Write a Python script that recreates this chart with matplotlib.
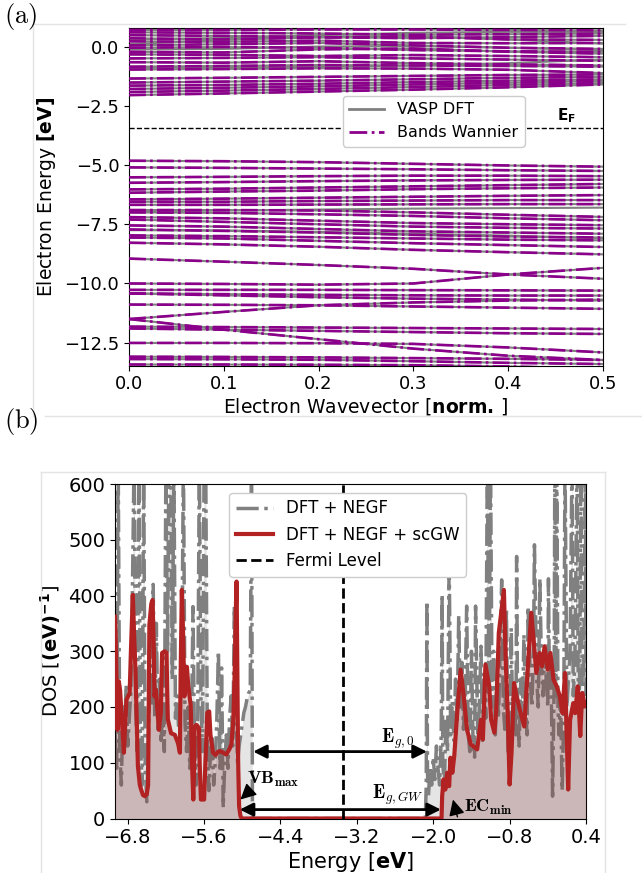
import matplotlib
matplotlib.use('Agg')
import matplotlib.pyplot as plt
from matplotlib.lines import Line2D
import numpy as np

# ---------------- data: band structure (panel a) ----------------
kpts = [0.0, 0.1, 0.2, 0.3, 0.4, 0.5]

wannier_upper = [
    [0.70, 0.70, 0.72, 0.72, 0.70, 0.68],
    [0.60, 0.58, 0.55, 0.50, 0.52, 0.55],
    [0.48, 0.45, 0.40, 0.35, 0.40, 0.45],
    [0.35, 0.30, 0.38, 0.42, 0.30, 0.28],
    [0.22, 0.20, 0.25, 0.15, 0.14, 0.15],
    [0.05, 0.10, 0.15, 0.05, -0.05, -0.10],
    [-0.05, -0.02, -0.05, -0.15, -0.20, -0.22],
    [-0.22, -0.25, -0.12, -0.08, -0.22, -0.30],
    [-0.33, -0.35, -0.40, -0.36, -0.40, -0.45],
    [-0.50, -0.48, -0.45, -0.50, -0.55, -0.60],
    [-0.66, -0.68, -0.62, -0.70, -0.75, -0.80],
    [-0.85, -0.82, -0.78, -0.80, -0.82, -0.85],
    [-0.97, -0.95, -0.92, -0.93, -0.98, -1.12],
    [-1.35, -1.32, -1.28, -1.24, -1.20, -1.18],
    [-1.52, -1.48, -1.44, -1.38, -1.32, -1.28],
    [-1.65, -1.62, -1.57, -1.50, -1.44, -1.38],
    [-1.79, -1.74, -1.68, -1.60, -1.53, -1.45],
    [-1.92, -1.86, -1.79, -1.71, -1.62, -1.54],
    [-2.05, -1.98, -1.90, -1.82, -1.72, -1.60],
]
wannier_lower = [
    [-4.82, -4.84, -4.88, -4.95, -5.02, -5.07],
    [-5.10, -5.12, -5.15, -5.18, -5.22, -5.25],
    [-5.52, -5.50, -5.47, -5.45, -5.45, -5.47],
    [-5.75, -5.72, -5.68, -5.65, -5.63, -5.62],
    [-6.03, -6.00, -5.95, -5.90, -5.85, -5.80],
    [-6.17, -6.12, -6.08, -6.02, -5.98, -5.95],
    [-6.45, -6.42, -6.38, -6.34, -6.30, -6.27],
    [-6.55, -6.55, -6.52, -6.50, -6.48, -6.48],
    [-6.68, -6.68, -6.67, -6.66, -6.65, -6.65],
    [-6.90, -6.90, -6.92, -7.00, -7.10, -7.19],
    [-7.00, -7.02, -7.08, -7.15, -7.25, -7.33],
    [-7.20, -7.25, -7.35, -7.45, -7.50, -7.54],
    [-7.30, -7.40, -7.50, -7.60, -7.65, -7.68],
    [-7.55, -7.60, -7.70, -7.80, -7.85, -7.90],
    [-7.72, -7.78, -7.85, -7.95, -8.02, -8.06],
    [-7.97, -8.00, -8.05, -8.10, -8.15, -8.18],
    [-8.06, -8.10, -8.20, -8.30, -8.38, -8.46],
    [-8.28, -8.35, -8.45, -8.58, -8.68, -8.77],
]
wannier_deep = [
    [-8.95, -9.08, -9.22, -9.38, -9.62, -9.80],
    [-10.00, -10.02, -10.05, -10.00, -9.62, -9.34],
    [-10.27, -10.27, -10.27, -10.28, -10.29, -10.30],
    [-10.42, -10.45, -10.48, -10.50, -10.51, -10.51],
    [-10.42, -10.50, -10.58, -10.64, -10.68, -10.72],
    [-10.89, -10.90, -10.92, -10.97, -11.02, -11.07],
    [-11.50, -11.20, -10.92, -10.80, -10.72, -10.68],
    [-11.50, -11.95, -12.35, -12.75, -13.05, -13.23],
    [-11.82, -11.84, -11.86, -11.88, -11.90, -11.92],
    [-11.90, -11.95, -12.00, -12.05, -12.10, -12.13],
    [-12.51, -12.51, -12.52, -12.55, -12.70, -12.91],
    [-13.09, -13.10, -13.12, -13.15, -13.18, -13.23],
    [-13.19, -13.20, -13.22, -13.28, -13.35, -13.40],
    [-13.42, -13.42, -13.43, -13.45, -13.50, -13.60],
]
dft_only_bands = [
    [0.10, 0.28, 0.42, 0.45, 0.30, 0.12],
    [0.30, 0.36, 0.48, 0.58, 0.62, 0.62],
    [-0.12, -0.10, 0.00, 0.02, -0.05, -0.15],
    [-0.90, -0.88, -0.86, -0.80, -0.70, -0.55],
    [-6.95, -6.92, -6.88, -6.84, -6.82, -6.80],
    [-7.75, -7.76, -7.82, -7.90, -7.98, -8.10],
]
fermi_bands = -3.43

# ---------------- data: DOS (panel b) ----------------
dft_valence = [
    (-7.000, 160), (-6.975, 90), (-6.950, 650), (-6.925, 120), (-6.900, 60),
    (-6.875, 200), (-6.850, 150), (-6.825, 240), (-6.800, 130), (-6.775, 180),
    (-6.750, 230), (-6.725, 420), (-6.700, 650), (-6.675, 200), (-6.650, 120),
    (-6.625, 650), (-6.600, 140), (-6.575, 60), (-6.550, 650), (-6.525, 90),
    (-6.500, 30), (-6.475, 150), (-6.450, 250), (-6.425, 200), (-6.400, 420),
    (-6.375, 180), (-6.350, 350), (-6.325, 160), (-6.300, 250), (-6.275, 140),
    (-6.250, 200), (-6.225, 120), (-6.200, 650), (-6.175, 300), (-6.150, 650),
    (-6.125, 650), (-6.100, 250), (-6.075, 650), (-6.050, 180), (-6.025, 220),
    (-6.000, 160), (-5.975, 200), (-5.950, 280), (-5.925, 650), (-5.900, 170),
    (-5.875, 120), (-5.850, 200), (-5.825, 90), (-5.800, 150), (-5.775, 380),
    (-5.750, 120), (-5.725, 60), (-5.700, 180), (-5.675, 650), (-5.650, 220),
    (-5.625, 120), (-5.600, 650), (-5.575, 650), (-5.550, 150), (-5.525, 50),
    (-5.500, 120), (-5.475, 150), (-5.450, 60), (-5.425, 100), (-5.400, 180),
    (-5.375, 300), (-5.350, 90), (-5.325, 270), (-5.300, 20), (-5.275, 100),
    (-5.250, 150), (-5.225, 90), (-5.200, 180), (-5.175, 220), (-5.150, 130),
    (-5.125, 380), (-5.100, 200), (-5.075, 100), (-5.050, 130), (-5.025, 150),
    (-5.000, 170), (-4.975, 190), (-4.950, 200), (-4.925, 215), (-4.900, 225),
    (-4.875, 230), (-4.855, 650), (-4.840, 0),
]
dft_conduction = [
    (-2.125, 0), (-2.110, 60), (-2.100, 390), (-2.090, 80), (-2.075, 40),
    (-2.050, 90), (-2.025, 60), (-2.000, 110), (-1.975, 70), (-1.950, 130),
    (-1.925, 90), (-1.900, 60), (-1.875, 150), (-1.860, 402), (-1.850, 100),
    (-1.825, 60), (-1.800, 180), (-1.775, 120), (-1.750, 472), (-1.725, 150),
    (-1.700, 210), (-1.675, 140), (-1.650, 250), (-1.625, 170), (-1.600, 363),
    (-1.575, 200), (-1.550, 280), (-1.525, 160), (-1.500, 220), (-1.475, 381),
    (-1.450, 150), (-1.425, 120), (-1.400, 300), (-1.375, 140), (-1.350, 110),
    (-1.335, 381), (-1.300, 150), (-1.275, 200), (-1.250, 309), (-1.225, 140),
    (-1.200, 250), (-1.175, 180), (-1.150, 650), (-1.125, 220), (-1.100, 650),
    (-1.075, 200), (-1.050, 300), (-1.025, 150), (-1.000, 250), (-0.975, 180),
    (-0.950, 300), (-0.925, 428), (-0.900, 200), (-0.875, 160), (-0.850, 375),
    (-0.825, 120), (-0.800, 90), (-0.775, 342), (-0.750, 160), (-0.725, 220),
    (-0.700, 150), (-0.690, 470), (-0.675, 200), (-0.650, 130), (-0.625, 250),
    (-0.600, 180), (-0.575, 330), (-0.550, 200), (-0.525, 150), (-0.510, 380),
    (-0.475, 250), (-0.450, 200), (-0.425, 300), (-0.410, 491), (-0.375, 250),
    (-0.350, 200), (-0.325, 430), (-0.300, 280), (-0.275, 220), (-0.250, 300),
    (-0.225, 250), (-0.200, 200), (-0.190, 430), (-0.175, 240), (-0.150, 280),
    (-0.125, 40), (-0.100, 250), (-0.090, 650), (-0.075, 220), (-0.060, 650),
    (-0.040, 200), (-0.025, 150), (0.000, 220), (0.025, 50), (0.050, 180),
    (0.070, 650), (0.100, 200), (0.125, 250), (0.150, 300), (0.180, 650),
    (0.200, 220), (0.225, 280), (0.260, 650), (0.280, 200), (0.300, 250),
    (0.320, 650), (0.340, 230), (0.360, 200), (0.390, 650), (0.400, 220),
]
gw_valence = [
    (-7.00, 362), (-6.99, 330), (-6.96, 159), (-6.94, 246), (-6.92, 230),
    (-6.90, 190), (-6.89, 172), (-6.86, 118), (-6.84, 170), (-6.82, 213),
    (-6.77, 225), (-6.75, 300), (-6.72, 401), (-6.70, 330), (-6.68, 272),
    (-6.66, 180), (-6.64, 94), (-6.61, 60), (-6.59, 52), (-6.56, 42),
    (-6.53, 40), (-6.50, 44), (-6.48, 60), (-6.47, 200), (-6.46, 347),
    (-6.43, 385), (-6.41, 392), (-6.39, 300), (-6.38, 219), (-6.36, 231),
    (-6.35, 220), (-6.31, 159), (-6.28, 190), (-6.27, 240), (-6.26, 297),
    (-6.22, 300), (-6.19, 297), (-6.18, 230), (-6.17, 178), (-6.12, 153),
    (-6.06, 150), (-6.01, 135), (-5.98, 118), (-5.97, 250), (-5.95, 410),
    (-5.93, 330), (-5.91, 219), (-5.89, 250), (-5.87, 272), (-5.85, 240),
    (-5.81, 202), (-5.79, 100), (-5.77, 34), (-5.76, 80), (-5.75, 165),
    (-5.72, 168), (-5.68, 162), (-5.67, 100), (-5.65, 34), (-5.60, 34),
    (-5.58, 100), (-5.55, 190), (-5.52, 192), (-5.50, 150), (-5.46, 118),
    (-5.42, 114), (-5.38, 120), (-5.35, 121), (-5.30, 118), (-5.25, 115),
    (-5.20, 125), (-5.17, 134), (-5.14, 180), (-5.12, 260), (-5.10, 380),
    (-5.09, 425), (-5.08, 300), (-5.065, 100), (-5.05, 22), (-5.03, 5),
    (-5.01, 0),
]
gw_conduction = [
    (-1.87, 0), (-1.86, 40), (-1.84, 70), (-1.81, 52), (-1.78, 82),
    (-1.75, 58), (-1.73, 109), (-1.70, 82), (-1.67, 112), (-1.62, 195),
    (-1.57, 267), (-1.52, 219), (-1.47, 160), (-1.41, 133), (-1.31, 124),
    (-1.25, 177), (-1.22, 142), (-1.18, 276), (-1.12, 237), (-1.09, 177),
    (-1.04, 154), (-1.01, 195), (-0.97, 333), (-0.89, 410), (-0.86, 279),
    (-0.83, 189), (-0.80, 61), (-0.77, 118), (-0.73, 243), (-0.69, 219),
    (-0.64, 195), (-0.57, 165), (-0.52, 261), (-0.46, 369), (-0.41, 303),
    (-0.38, 261), (-0.33, 297), (-0.29, 273), (-0.25, 309), (-0.20, 267),
    (-0.16, 297), (-0.11, 249), (-0.06, 237), (-0.01, 219), (0.03, 189),
    (0.07, 261), (0.12, 52), (0.15, 177), (0.20, 207), (0.23, 189),
    (0.27, 237), (0.31, 148), (0.34, 225), (0.38, 201), (0.40, 207),
]
fermi_dos = -3.42
gap_dft = (-4.83, -2.10)      # E_g,0 arrow ends
gap_gw = (-5.04, -1.88)       # E_g,GW arrow ends

# ---------------- figure ----------------
plt.rcParams['font.family'] = ['DejaVu Sans']
fig = plt.figure(figsize=(6.42, 8.73), dpi=100)

# light frame lines of the composite
frame_col = '#e4e4e4'
def fline(x0, y0, x1, y1):
    fig.add_artist(Line2D([x0 / 642, x1 / 642], [1 - y0 / 873, 1 - y1 / 873],
                          color=frame_col, lw=1.0, transform=fig.transFigure))
fline(33, 24, 625, 24)
fline(33, 24, 33, 416)
fline(45, 416, 642, 416)
fline(41, 472, 605, 472)
fline(41, 472, 41, 873)
fline(605, 472, 605, 873)

fig.text(0.006, 0.999, r'$\mathrm{(a)}$', math_fontfamily='cm', fontsize=19, va='top', ha='left')
fig.text(0.006, 0.535, r'$\mathrm{(b)}$', math_fontfamily='cm', fontsize=19, va='top', ha='left')

# ---- panel (a)
ax1 = fig.add_axes([129 / 642, 1 - 365.7 / 873, 474 / 642, 337.4 / 873])
for b in dft_only_bands:
    ax1.plot(kpts, b, color='gray', lw=1.5, zorder=2)
for b in wannier_upper + wannier_lower + wannier_deep:
    ax1.plot(kpts, b, color='gray', lw=1.5, zorder=2)
for b in wannier_upper + wannier_lower + wannier_deep:
    ax1.plot(kpts, b, color='darkmagenta', lw=1.9, ls='-.', zorder=3)
ax1.axhline(fermi_bands, color='black', ls='--', lw=1.0, zorder=4)
ax1.text(0.451, fermi_bands + 0.12, r'$\mathbf{E_F}$', fontsize=11, ha='left', va='bottom')
ax1.set_xlim(0, 0.5)
ax1.set_ylim(-13.47, 0.77)
ax1.set_xticks([0.0, 0.1, 0.2, 0.3, 0.4, 0.5])
ax1.set_yticks([0.0, -2.5, -5.0, -7.5, -10.0, -12.5])
ax1.tick_params(labelsize=13)
ax1.set_ylabel(r'Electron Energy $\mathbf{[eV]}$', fontsize=13.5)
ax1.set_xlabel(r'Electron Wavevector [$\mathbf{norm.}\,$]', fontsize=13.5, labelpad=2)
h1 = [Line2D([], [], color='gray', lw=2), Line2D([], [], color='darkmagenta', lw=2, ls='-.')]
ax1.legend(h1, ['VASP DFT', 'Bands Wannier'], loc='upper left', bbox_to_anchor=(0.451, 0.80),
           borderaxespad=0, fontsize=11.5, framealpha=1.0, handlelength=2.2)

# ---- panel (b)
E_dft = [e for e, _ in dft_valence] + [e for e, _ in dft_conduction]
D_dft = [d for _, d in dft_valence] + [d for _, d in dft_conduction]
E_gw = [e for e, _ in gw_valence] + [e for e, _ in gw_conduction]
D_gw = [d for _, d in gw_valence] + [d for _, d in gw_conduction]

ax2 = fig.add_axes([115 / 642, 1 - 818.5 / 873, 471 / 642, 334.5 / 873])
ax2.fill_between(E_dft, D_dft, 0, color='gray', alpha=0.2, lw=0, zorder=1)
ax2.plot(E_dft, D_dft, color='gray', ls='-.', lw=2.5, zorder=2, label='DFT + NEGF')
ax2.fill_between(E_gw, D_gw, 0, color='#803030', alpha=0.25, lw=0, zorder=3)
ax2.plot(E_gw, D_gw, color='#b22222', lw=3, zorder=4, label='DFT + NEGF + scGW')
ax2.axvline(fermi_dos, color='black', ls='--', lw=2, zorder=5, label='Fermi Level')

ap = dict(arrowstyle='<|-|>', color='black', lw=2, mutation_scale=20, shrinkA=0, shrinkB=0)
ax2.annotate('', xy=(gap_dft[0], 120), xytext=(gap_dft[1], 120), arrowprops=ap, zorder=6)
ax2.annotate('', xy=(gap_gw[0], 16), xytext=(gap_gw[1], 16), arrowprops=ap, zorder=6)
ax2.text(-2.56, 143, r'$\mathbf{E}_{g,0}$', math_fontfamily='cm', fontsize=13.5, ha='center', va='center')
ax2.text(-2.56, 42, r'$\mathbf{E}_{g,GW}$', math_fontfamily='cm', fontsize=13.5, ha='center', va='center')
hp = dict(arrowstyle='-|>', color='black', lw=1, mutation_scale=24, shrinkA=0, shrinkB=0)
ax2.annotate('', xy=(-5.03, 34), xytext=(-4.86, 52), arrowprops=hp, zorder=6)
ax2.annotate('', xy=(-1.69, 34), xytext=(-1.62, 3), arrowprops=hp, zorder=6)
ax2.text(-4.93, 70, r'$\mathbf{VB_{max}}$', math_fontfamily='cm', fontsize=13, ha='left', va='center')
ax2.text(-1.52, 20, r'$\mathbf{EC_{min}}$', math_fontfamily='cm', fontsize=13, ha='left', va='center')

ax2.set_xlim(-7.0, 0.4)
ax2.set_ylim(0, 600)
ax2.set_xticks([-6.8, -5.6, -4.4, -3.2, -2.0, -0.8, 0.4])
ax2.set_yticks([0, 100, 200, 300, 400, 500, 600])
ax2.tick_params(labelsize=14)
ax2.set_xlabel(r'Energy [$\mathbf{eV}$]', fontsize=15, labelpad=2)
ax2.set_ylabel(r'DOS [$\mathbf{(eV)^{-1}}$]', fontsize=14)
ax2.legend(loc='upper left', bbox_to_anchor=(0.243, 0.974), borderaxespad=0,
           fontsize=12, framealpha=1.0, handlelength=2.2)

fig.savefig('out.png', dpi=100)
